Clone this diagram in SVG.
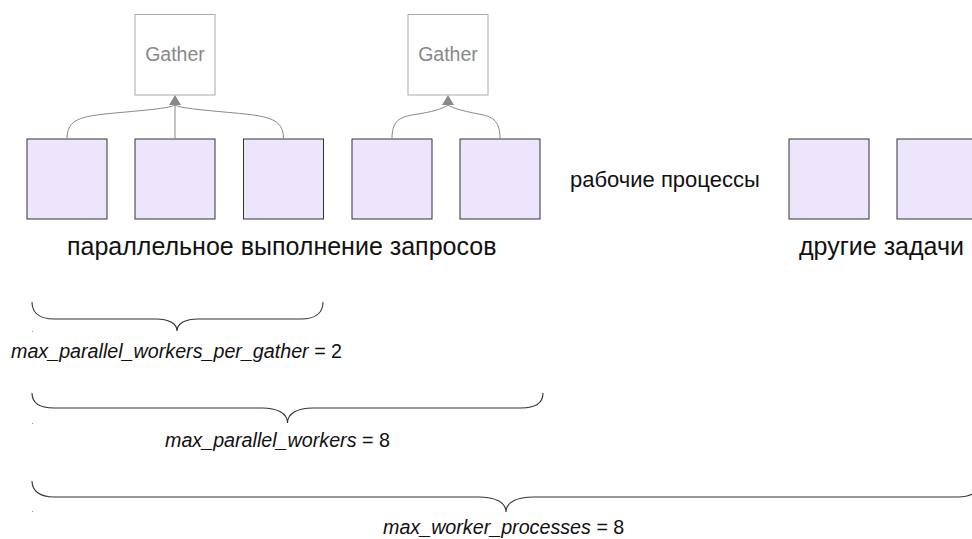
<svg xmlns="http://www.w3.org/2000/svg" xmlns:xlink="http://www.w3.org/1999/xlink" width="972" height="539" viewBox="0 0 972 539">
  <style>
    .worker { fill: #ede5fc; stroke: #333333; stroke-width: 1; }
    .gather { fill: #ffffff; stroke: #aaaaaa; stroke-width: 1; }
    .gtext { font-family: "Liberation Sans", Arial, sans-serif; font-size: 19.5px; fill: #888888; text-anchor: middle; }
    .txt { font-family: "Liberation Sans", Arial, sans-serif; fill: #111111; }
    .big { font-size: 25px; }
    .mid { font-size: 22px; }
    .lbl { font-size: 19.7px; }
    .it { font-style: italic; }
    .edge { fill: none; stroke: #888888; stroke-width: 1; }
    .arrow { fill: #888888; }
    .brace { fill: none; stroke: #333333; stroke-width: 1.1; }
    .dot { fill: #999999; }
  </style>
  <defs>
    <path id="ah" d="M0,0 L6,10 L-6,10 Z"/>
  </defs>
  <rect width="972" height="539" fill="#ffffff"/>

  <g id="gather1">
    <rect class="gather" x="135" y="14.5" width="80" height="80.5"/>
    <text class="gtext" x="175" y="61">Gather</text>
  </g>
  <g id="gather2">
    <rect class="gather" x="408" y="14.5" width="80" height="80.5"/>
    <text class="gtext" x="448" y="61">Gather</text>
  </g>

  <g id="worker1"><rect class="worker" x="27" y="139" width="80" height="80"/></g>
  <g id="worker2"><rect class="worker" x="135" y="139" width="80" height="80"/></g>
  <g id="worker3"><rect class="worker" x="243.5" y="139" width="80" height="80"/></g>
  <g id="worker4"><rect class="worker" x="352" y="139" width="80" height="80"/></g>
  <g id="worker5"><rect class="worker" x="460" y="139" width="80" height="80"/></g>
  <g id="other1"><rect class="worker" x="789" y="139" width="80" height="80"/></g>
  <g id="other2"><rect class="worker" x="897" y="139" width="80" height="80"/></g>

  <g id="connectors">
    <path class="edge" d="M67,139 C67,122 76,117 105,114 S168,109 175,105"/>
    <path class="edge" d="M175,139 L175,105"/>
    <path class="edge" d="M283.5,139 C283.5,122 274,117 245,114 S182,109 175,105"/>
    <use href="#ah" xlink:href="#ah" class="arrow" x="175" y="95"/>
    <path class="edge" d="M392,139 C392,122 398,117 415,114.5 S442,109 448,105"/>
    <path class="edge" d="M500,139 C500,122 494,117 481,114.5 S454,109 448,105"/>
    <use href="#ah" xlink:href="#ah" class="arrow" x="448" y="95"/>
  </g>

  <g id="labels">
    <text class="txt mid" x="570" y="187">рабочие процессы</text>
    <text class="txt big" x="67" y="255">параллельное выполнение запросов</text>
    <text class="txt big" x="799" y="255">другие задачи</text>
  </g>

  <g id="brace1">
    <path class="brace" d="M32,302 C32,313 40,319 54,319 L156,319 C168,319 177,323 177,331 C177,323 186,319 198,319 L301,319 C315,319 323,313 323,302"/>
    <rect class="dot" x="32" y="331" width="1" height="1"/>
    <text class="txt lbl" x="11" y="358"><tspan class="it">max_parallel_workers_per_gather</tspan> = 2</text>
  </g>
  <g id="brace2">
    <path class="brace" d="M32,393 C32,403 40,408 54,408 L262,408 C277,408 287.5,413 287.5,423 C287.5,413 298,408 313,408 L521,408 C535,408 543,403 543,393"/>
    <rect class="dot" x="32" y="423" width="1" height="1"/>
    <text class="txt lbl" x="165" y="447"><tspan class="it">max_parallel_workers</tspan> = 8</text>
  </g>
  <g id="brace3">
    <path class="brace" d="M32,481 C32,491 40,497 54,497 L478,497 C495,497 506,502 506,512 C506,502 517,497 534,497 L958,497 C972,497 980,491 980,481"/>
    <rect class="dot" x="32" y="511" width="1" height="1"/>
    <text class="txt lbl" x="383" y="534"><tspan class="it">max_worker_processes</tspan> = 8</text>
  </g>
</svg>
